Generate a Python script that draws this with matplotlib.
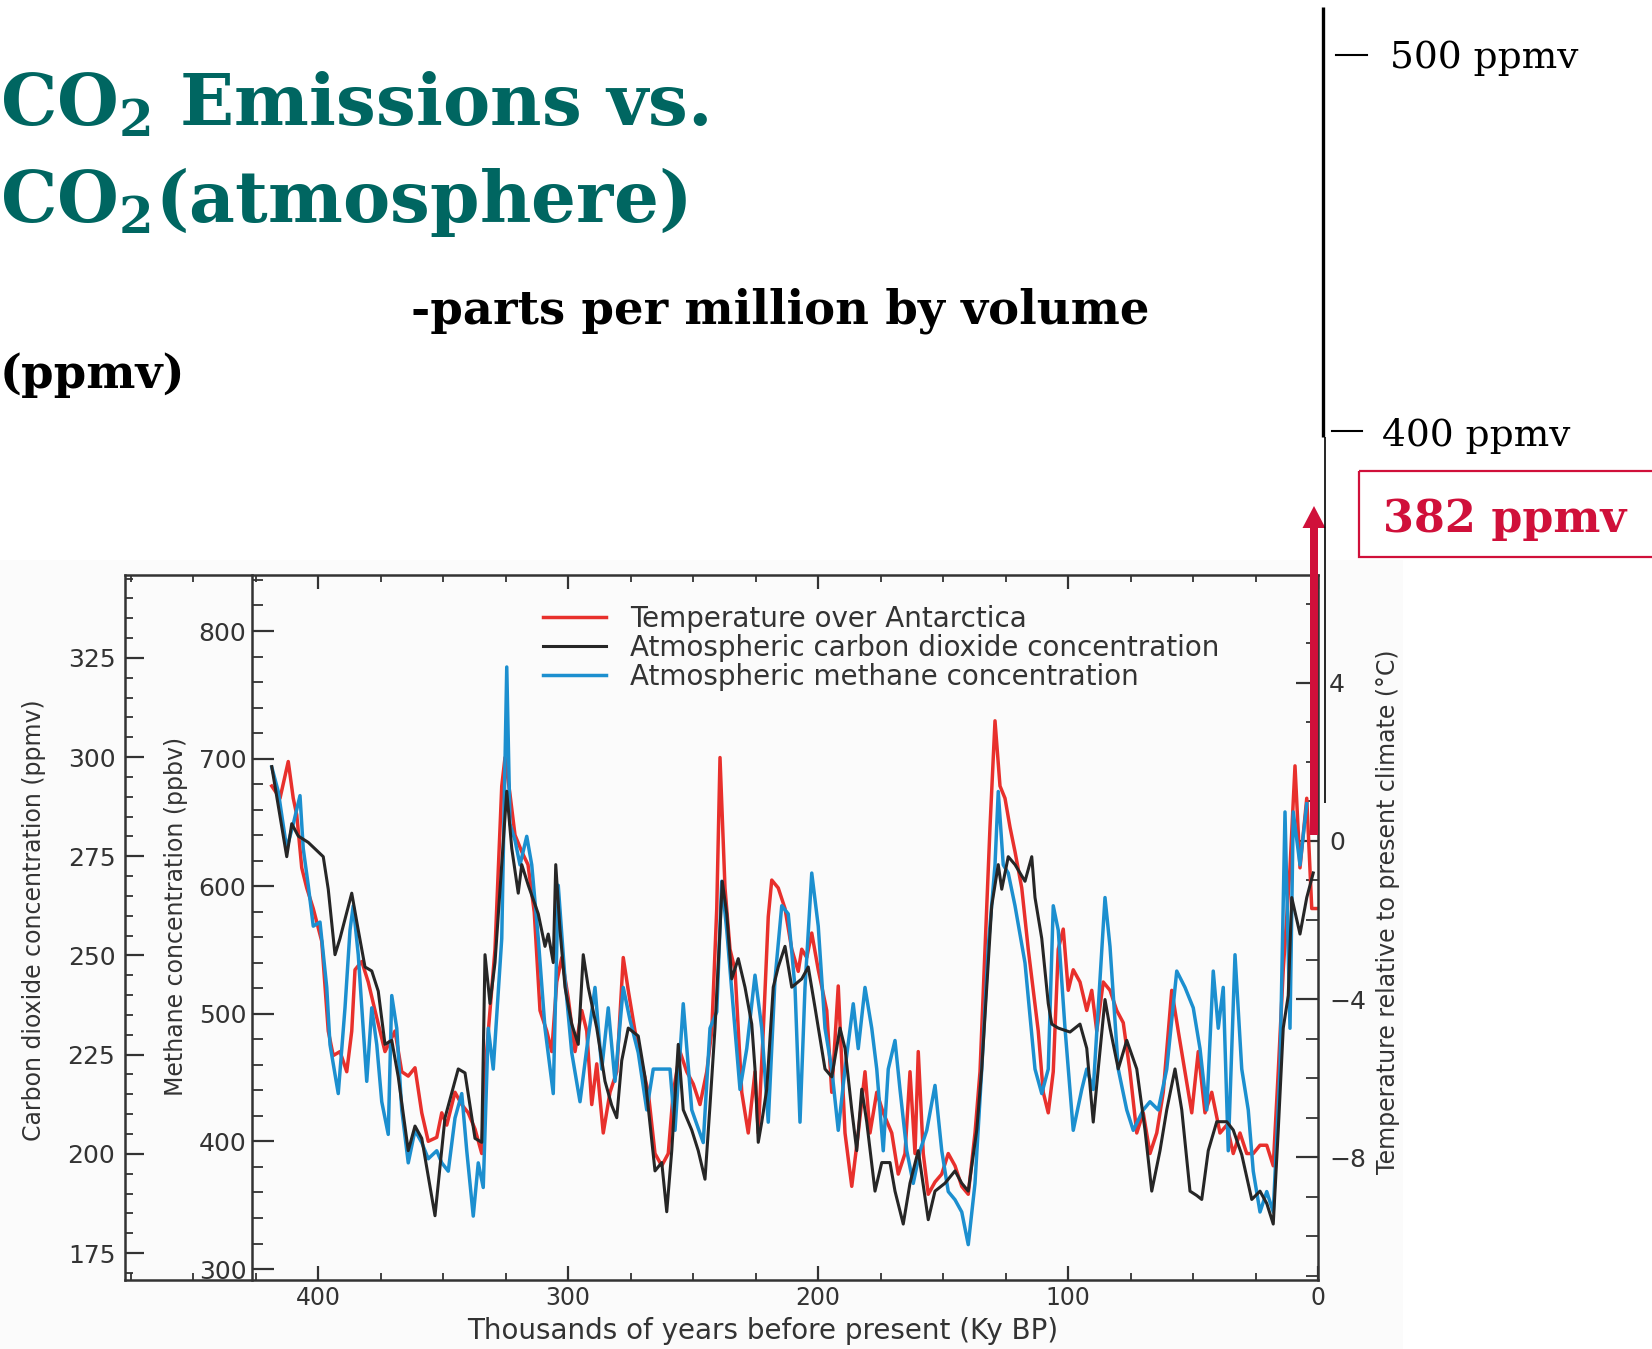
import matplotlib
matplotlib.use('Agg')
import matplotlib.pyplot as plt
from matplotlib.patches import Rectangle, FancyArrow
from matplotlib.ticker import MultipleLocator, FixedLocator

plt.rcParams['font.family'] = ['DejaVu Sans']

# values (ages in ky BP)
co2_age = [418.5, 415.2, 412.5, 410.5, 407.9, 403.9, 397.9, 395.9, 393.2, 391.2,
           386.5, 383.9, 381.2, 378.5, 375.9, 373.2, 370.5, 367.9, 363.9, 361.2,
           358.5, 353.2, 349.2, 343.9, 341.2, 337.2, 334.5, 333.2, 331.2, 329.2,
           326.5, 324.5, 322.5, 319.9, 318.5, 315.9, 311.9, 309.2, 307.9, 305.9,
           304.9, 303.2, 301.2, 298.5, 295.9, 293.9, 291.9, 288.5, 285.2, 282.5,
           280.5, 278.5, 275.9, 271.9, 269.2, 265.2, 262.5, 260.5, 258.5, 255.9,
           253.9, 250.5, 247.9, 245.2, 243.2, 241.2, 239.2, 238.3, 236.5, 234.5,
           231.9, 229.2, 226.5, 225.2, 223.9, 222.5, 220.5, 217.9, 215.9, 213.2,
           210.5, 206.5, 203.9, 201.2, 197.2, 194.5, 191.2, 189.2, 186.5, 184.5,
           182.5, 180.5, 177.2, 174.5, 171.2, 169.2, 165.9, 163.2, 159.9, 155.9,
           153.2, 149.2, 145.2, 142.5, 139.9, 136.5, 134.5, 132.5, 130.5, 127.9,
           126.5, 123.9, 121.2, 117.2, 114.5, 113.2, 110.5, 107.9, 106.5, 103.9,
           99.2, 95.2, 92.5, 89.9, 87.9, 85.2, 83.2, 79.9, 76.5, 72.5,
           69.2, 66.5, 63.2, 60.5, 57.2, 54.5, 51.2, 48.5, 46.5, 43.9,
           40.5, 36.5, 33.9, 30.5, 26.5, 23.2, 20.5, 17.9, 15.9, 13.9,
           11.9, 10.5, 7.2, 4.5, 1.9]
co2_ppmv = [297.6, 285.2, 274.9, 283.2, 280.1, 278.5, 274.9, 266.7, 250.2, 254.3,
            265.7, 256.4, 247.1, 246.1, 241.0, 227.6, 228.6, 219.4, 200.8, 207.0,
            203.9, 184.4, 209.1, 221.4, 220.4, 203.9, 202.9, 250.2, 237.9, 248.2,
            272.9, 291.4, 277.0, 265.7, 272.9, 267.7, 260.5, 252.3, 255.4, 248.2,
            272.9, 256.4, 242.0, 232.7, 227.6, 250.2, 242.0, 231.7, 218.3, 212.2,
            209.1, 223.5, 231.7, 229.7, 219.4, 195.7, 197.8, 185.4, 200.8, 227.6,
            211.1, 206.0, 200.8, 193.6, 212.2, 231.7, 256.4, 268.7, 260.5, 244.1,
            249.2, 242.0, 232.7, 221.4, 202.9, 208.0, 216.3, 242.0, 247.1, 252.3,
            242.0, 244.1, 247.1, 236.9, 221.4, 219.4, 231.7, 226.6, 211.1, 200.8,
            216.3, 208.0, 190.6, 197.8, 197.8, 190.6, 182.3, 192.6, 200.8, 183.4,
            190.6, 192.6, 195.7, 192.6, 190.6, 206.0, 221.4, 242.0, 262.6, 272.9,
            266.7, 274.9, 272.9, 268.7, 274.9, 264.6, 254.3, 237.9, 232.7, 231.7,
            230.7, 232.7, 226.6, 208.0, 221.4, 238.9, 231.7, 221.4, 228.6, 221.4,
            206.0, 190.6, 200.8, 211.1, 221.4, 211.1, 190.6, 189.5, 188.5, 200.8,
            208.1, 208.1, 206.0, 199.8, 188.5, 190.6, 187.5, 182.3, 206.0, 231.7,
            239.9, 264.6, 255.4, 264.6, 270.8]

ch4_age = [418.5, 415.9, 412.5, 409.9, 407.2, 405.9, 403.9, 401.9, 399.2, 396.5,
           395.2, 391.9, 389.2, 387.2, 385.9, 383.9, 380.5, 378.5, 376.5, 374.5,
           371.9, 370.5, 368.5, 366.5, 363.9, 361.2, 358.5, 355.9, 352.5, 350.5,
           347.9, 345.2, 342.5, 340.5, 337.9, 335.9, 333.9, 331.9, 329.9, 326.5,
           324.5, 323.2, 321.2, 319.2, 316.5, 314.5, 311.9, 309.2, 305.9, 303.9,
           301.2, 298.5, 295.2, 292.5, 289.2, 286.5, 283.9, 281.2, 277.9, 275.2,
           271.9, 268.5, 265.9, 262.5, 259.2, 257.2, 253.9, 250.5, 245.9, 243.2,
           240.5, 238.5, 236.5, 233.9, 231.2, 228.5, 225.2, 222.5, 219.9, 217.2,
           214.5, 211.9, 209.2, 207.2, 205.2, 202.5, 199.9, 197.2, 194.5, 191.9,
           189.2, 185.9, 183.9, 181.2, 178.5, 176.5, 173.9, 171.9, 169.2, 167.2,
           164.5, 161.9, 159.2, 156.5, 153.2, 150.5, 147.9, 145.2, 142.5, 139.9,
           137.2, 134.5, 131.9, 129.2, 127.9, 125.9, 123.9, 121.2, 117.2, 113.2,
           110.5, 107.9, 105.9, 103.9, 101.2, 97.9, 94.5, 92.5, 89.9, 87.9,
           85.2, 83.2, 79.9, 76.5, 73.9, 69.9, 67.2, 63.9, 60.5, 56.5,
           53.2, 49.9, 47.2, 44.5, 41.9, 39.9, 37.9, 35.9, 33.2, 30.5,
           27.9, 25.9, 23.2, 20.5, 17.9, 15.2, 13.2, 11.2, 9.9, 7.2, 4.5]
ch4_ppbv = [693.4, 674.2, 629.5, 648.7, 671.0, 629.5, 600.7, 568.7, 571.9, 520.7,
            475.9, 437.5, 504.7, 565.5, 584.7, 546.3, 447.1, 504.7, 475.9, 431.1,
            405.5, 514.3, 488.7, 424.7, 383.2, 408.7, 399.1, 386.4, 392.7, 383.2,
            376.7, 418.3, 437.5, 392.7, 341.5, 383.2, 363.9, 488.7, 456.7, 559.1,
            771.8, 648.7, 635.9, 616.7, 639.1, 616.7, 559.1, 488.7, 437.5, 600.7,
            527.1, 469.5, 431.1, 472.7, 520.7, 456.7, 504.7, 447.1, 520.7, 495.1,
            469.5, 424.7, 456.7, 456.7, 456.7, 408.7, 507.9, 424.7, 399.1, 488.7,
            501.5, 603.9, 565.5, 504.7, 440.7, 472.7, 530.3, 488.7, 415.1, 527.1,
            584.7, 578.3, 520.7, 415.1, 520.7, 610.3, 568.7, 488.7, 456.7, 408.7,
            456.7, 507.9, 472.7, 520.7, 488.7, 456.7, 392.7, 456.7, 479.1, 440.7,
            392.7, 367.1, 392.7, 408.7, 443.9, 392.7, 360.7, 354.3, 344.7, 319.1,
            367.1, 456.7, 552.7, 616.7, 674.2, 616.7, 610.3, 584.7, 539.9, 456.7,
            437.5, 456.7, 584.7, 565.5, 488.7, 408.7, 440.7, 456.7, 440.7, 504.7,
            591.1, 552.7, 456.7, 424.7, 408.7, 424.7, 431.1, 424.7, 456.7, 533.5,
            520.7, 504.7, 472.7, 424.7, 533.5, 488.7, 520.7, 392.7, 546.3, 456.7,
            424.7, 376.7, 344.7, 360.7, 344.7, 456.7, 658.2, 488.7, 658.2, 616.7, 664.6]

temp_age = [418.5, 415.2, 411.9, 409.9, 408.5, 406.5, 404.5, 401.9, 398.5, 395.9,
            393.9, 391.2, 388.5, 386.5, 385.2, 382.5, 379.9, 377.2, 375.2, 373.2,
            369.2, 366.5, 363.9, 361.2, 358.5, 355.9, 352.5, 350.5, 348.5, 345.2,
            342.5, 339.9, 337.2, 334.5, 333.2, 331.2, 329.2, 326.5, 325.2, 323.2,
            321.2, 318.5, 316.0, 313.5, 311.2, 308.5, 306.5, 304.5, 302.5, 299.9,
            297.2, 294.5, 292.5, 290.5, 288.5, 285.9, 283.2, 280.5, 277.9, 275.9,
            273.2, 270.5, 267.9, 265.2, 262.5, 259.9, 257.9, 255.2, 252.5, 249.9,
            247.2, 244.5, 242.5, 240.5, 239.2, 237.2, 235.2, 233.2, 230.5, 227.9,
            225.2, 223.9, 221.9, 219.9, 218.5, 215.9, 213.2, 210.5, 207.9, 206.5,
            204.5, 202.5, 199.9, 196.5, 194.5, 191.9, 189.2, 186.5, 183.9, 181.2,
            179.2, 176.5, 173.9, 170.5, 167.9, 165.2, 163.2, 161.2, 159.9, 157.9,
            155.9, 153.2, 150.5, 147.9, 145.2, 142.5, 139.9, 137.2, 135.2, 133.2,
            131.2, 129.2, 127.2, 125.2, 123.2, 121.2, 118.5, 115.9, 113.9, 111.9,
            109.9, 107.9, 105.9, 103.9, 101.9, 99.9, 97.9, 95.2, 92.5, 90.5,
            88.5, 85.9, 83.2, 80.5, 77.9, 75.2, 72.5, 69.9, 67.2, 64.5,
            61.9, 58.5, 55.9, 53.2, 50.5, 47.9, 45.2, 42.5, 39.2, 36.5,
            33.9, 31.2, 28.5, 25.9, 23.2, 20.5, 17.9, 15.9, 13.9, 11.2,
            9.2, 7.2, 4.5, 2.5, 0.5]
temp_dc = [1.39, 1.08, 2.01, 1.08, 0.66, -0.68, -1.19, -1.71, -2.54, -4.81,
           -5.43, -5.33, -5.84, -4.81, -3.26, -3.05, -3.57, -4.29, -4.81, -5.33,
           -4.81, -5.84, -5.95, -5.74, -6.88, -7.60, -7.50, -6.88, -7.19, -6.36,
           -6.67, -6.88, -7.29, -7.91, -5.84, -4.29, -2.74, 1.39, 2.11, 1.18,
           0.15, -0.27, -0.60, -1.80, -4.29, -4.81, -5.33, -3.57, -2.95, -3.98,
           -5.33, -4.29, -4.81, -6.67, -5.64, -7.39, -6.36, -5.84, -2.95, -3.78,
           -4.81, -5.64, -6.36, -7.91, -8.22, -7.91, -6.36, -5.33, -5.84, -6.15,
           -6.67, -5.84, -4.81, -1.71, 2.11, -1.19, -2.74, -3.26, -6.36, -7.39,
           -5.84, -7.39, -4.81, -1.92, -0.99, -1.19, -1.71, -2.74, -3.30, -2.74,
           -2.95, -2.33, -3.26, -4.29, -6.36, -3.67, -7.39, -8.74, -7.39, -5.84,
           -7.39, -6.36, -6.88, -7.39, -8.43, -7.91, -5.84, -7.91, -5.33, -7.91,
           -8.94, -8.63, -8.43, -7.91, -8.22, -8.74, -8.94, -7.39, -5.84, -2.74,
           0.35, 3.04, 1.39, 1.08, 0.35, -0.27, -1.19, -2.74, -3.78, -4.81,
           -6.36, -6.88, -5.84, -2.74, -2.23, -3.78, -3.26, -3.57, -4.29, -3.78,
           -4.81, -3.57, -3.78, -4.29, -4.60, -5.84, -7.39, -6.88, -7.91, -7.39,
           -6.36, -3.78, -4.81, -5.84, -6.88, -5.33, -6.88, -6.36, -7.39, -7.19,
           -7.91, -7.39, -7.91, -7.91, -7.70, -7.70, -8.22, -5.84, -3.26, -0.68,
           1.90, -0.68, 1.08, -1.71, -1.71]

legend_labels = ['Temperature over Antarctica',
                 'Atmospheric carbon dioxide concentration',
                 'Atmospheric methane concentration']
co2_ticks = [175, 200, 225, 250, 275, 300, 325]
ch4_ticks = [300, 400, 500, 600, 700, 800]
temp_ticks = [-8, -4, 0, 4]
age_ticks = [400, 300, 200, 100, 0]
scale_labels = ['500 ppmv', '400 ppmv']
today_label = '382 ppmv'

RED = '#e8302c'
BLUE = '#1c8fcf'
BLACK = '#262626'
GREY = '#333333'
TEAL = '#006661'
CRIMSON = '#d0103a'

W, H = 1652, 1349


def px_rect(x0, y0, x1, y1):
    '''Figure-fraction rect from pixel corners (y measured from the top).'''
    return [x0 / W, 1 - y1 / H, (x1 - x0) / W, (y1 - y0) / H]


fig = plt.figure(figsize=(W / 100, H / 100), dpi=100)
fig.add_artist(Rectangle((0, 0), 1403 / W, 1 - 560 / H, transform=fig.transFigure,
                         facecolor='#fbfbfb', edgecolor='none', zorder=-1))

ax = fig.add_axes(px_rect(125, 575, 1318, 1280))
ax_m = ax.twinx()
ax_t = ax.twinx()
for a, z in ((ax_t, 1), (ax_m, 2), (ax, 3)):
    a.set_zorder(z)
    a.patch.set_visible(False)

ax.set_xlim(477.2, 0)
ax.set_ylim(168.2, 345.9)
ax_m.set_ylim(291.4, 843.9)
ax_t.set_ylim(-11.11, 6.73)

l_red, = ax_t.plot(temp_age, temp_dc, color=RED, lw=2.5)
l_blue, = ax_m.plot(ch4_age, ch4_ppbv, color=BLUE, lw=2.5)
l_black, = ax.plot(co2_age, co2_ppmv, color=BLACK, lw=2.2)

# CO2 axis = outer frame
ax.spines['right'].set_visible(False)
for s in ('left', 'bottom', 'top'):
    ax.spines[s].set_linewidth(1.8)
    ax.spines[s].set_color(GREY)
ax.yaxis.set_major_locator(FixedLocator(co2_ticks))
ax.yaxis.set_minor_locator(MultipleLocator(5))
ax.xaxis.set_major_locator(FixedLocator(age_ticks))
ax.xaxis.set_minor_locator(MultipleLocator(25))
ax.tick_params(axis='y', which='major', direction='in', length=14, width=1.6,
               labelsize=18, pad=7, colors=GREY, right=False)
ax.tick_params(axis='y', which='minor', direction='in', length=6, width=1.3,
               colors=GREY, right=False)
ax.tick_params(axis='x', which='major', direction='in', length=10, width=1.6,
               labelsize=17, pad=4, colors=GREY, top=True)
ax.tick_params(axis='x', which='minor', direction='in', length=5, width=1.3,
               colors=GREY, top=True)

# methane axis, inner spine
for s in ('right', 'top', 'bottom'):
    ax_m.spines[s].set_visible(False)
ax_m.spines['left'].set_visible(True)
ax_m.spines['left'].set_position(('data', 426.4))
ax_m.spines['left'].set_linewidth(1.8)
ax_m.spines['left'].set_color(GREY)
ax_m.yaxis.set_ticks_position('left')
ax_m.yaxis.set_label_position('left')
ax_m.yaxis.set_major_locator(FixedLocator(ch4_ticks))
ax_m.yaxis.set_minor_locator(MultipleLocator(20))
ax_m.tick_params(axis='y', which='major', direction='in', length=16, width=1.6,
                 labelsize=18, pad=4, colors=GREY)
ax_m.tick_params(axis='y', which='minor', direction='in', length=8, width=1.3,
                 colors=GREY)

# temperature axis, right
for s in ('left', 'top', 'bottom'):
    ax_t.spines[s].set_visible(False)
ax_t.spines['right'].set_linewidth(1.8)
ax_t.spines['right'].set_color(GREY)
ax_t.yaxis.set_major_locator(FixedLocator(temp_ticks))
ax_t.yaxis.set_minor_locator(MultipleLocator(1))
ax_t.tick_params(axis='y', which='major', direction='in', length=16, width=1.6,
                 labelsize=18, pad=8, colors=GREY)
ax_t.tick_params(axis='y', which='minor', direction='in', length=9, width=1.3,
                 colors=GREY)

ax.set_ylabel('Carbon dioxide concentration (ppmv)', fontsize=17, color=GREY, va='center')
ax.yaxis.set_label_coords(-0.0763, 0.511)
ax_m.set_ylabel('Methane concentration (ppbv)', fontsize=17, color=GREY, va='center')
ax_m.yaxis.set_label_coords(0.0427, 0.515)
ax_t.set_ylabel('Temperature relative to present climate (°C)', fontsize=17,
                color=GREY, va='center')
ax_t.yaxis.set_label_coords(1.0587, 0.522)
ax.set_xlabel('Thousands of years before present (Ky BP)', fontsize=20, color=GREY,
              va='center')
ax.xaxis.set_label_coords(0.5348, -0.0723)

leg = ax.legend([l_red, l_black, l_blue], legend_labels, loc='upper left',
                bbox_to_anchor=(543 / W, 1 - 605 / H), bbox_transform=fig.transFigure,
                frameon=False, fontsize=20, handlelength=2.27, handletextpad=0.86,
                labelspacing=0.03, borderpad=0, borderaxespad=0)
for t in leg.get_texts():
    t.set_color(GREY)

# overlay in pixel coordinates for the slide annotations
ov = fig.add_axes([0, 0, 1, 1], zorder=10)
ov.set_xlim(0, W)
ov.set_ylim(H, 0)
ov.axis('off')

title_kw = dict(family='DejaVu Serif', fontweight='bold', color=TEAL, fontsize=51,
                va='baseline', ha='left')
ov.text(0, 125, r'CO$_\mathregular{2}$ Emissions vs.', **title_kw)
ov.text(0, 222, r'CO$_\mathregular{2}$(atmosphere)', **title_kw)
sub_kw = dict(family='DejaVu Serif', fontweight='bold', color='black', fontsize=33.5,
              va='baseline', ha='left')
ov.text(411, 323, '-parts per million by volume', **sub_kw)
ov.text(0, 388, '(ppmv)', **sub_kw)

ov.plot([1323, 1323], [7, 437], color='black', lw=2.4, solid_capstyle='butt')
ov.plot([1325, 1325], [437, 803], color='black', lw=1.2, solid_capstyle='butt')
ov.plot([1336, 1367], [55, 55], color='black', lw=1.5)
ov.plot([1332, 1362], [431, 431], color='black', lw=1.5)
ov.text(1390, 68, scale_labels[0], family='DejaVu Serif', fontsize=27, color='black',
        va='baseline')
ov.text(1382, 446, scale_labels[1], family='DejaVu Serif', fontsize=27, color='black',
        va='baseline')

ov.add_patch(Rectangle((1359, 471), 320, 86, fill=False, edgecolor=CRIMSON, lw=1.6))
ov.text(1383, 532, today_label, family='DejaVu Serif', fontweight='bold', fontsize=32,
        color=CRIMSON, va='baseline')
ov.add_patch(FancyArrow(1314, 835, 0, -329, width=8, head_width=23, head_length=22,
                        length_includes_head=True, color=CRIMSON, lw=0))

fig.savefig('out.png', dpi=100)
